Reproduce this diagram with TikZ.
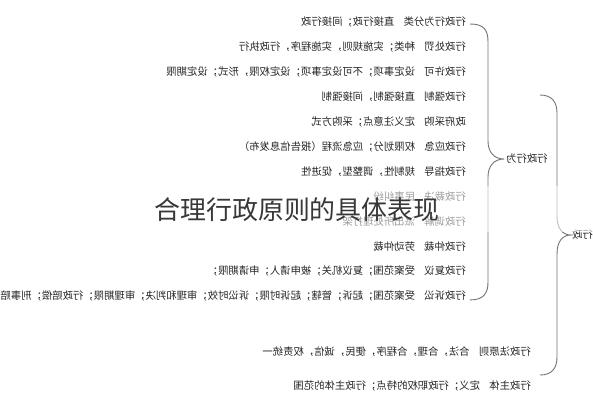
\documentclass[tikz,border=0pt]{standalone}
\usepackage{fontspec}
\setmainfont{Noto Sans CJK SC}
\usetikzlibrary{calc}
\begin{document}
\begin{tikzpicture}[x=1bp,y=-1bp,
  rowtext/.style={anchor=east,inner sep=0pt,font=\fontsize{10.4}{12}\selectfont,text=black!85},
  labtext/.style={anchor=west,inner sep=0pt,font=\fontsize{10.4}{12}\selectfont,text=black!85},
  conn/.style={draw=black!55,line width=0.9pt},
  titletext/.style={inner sep=0pt,font=\fontsize{26}{30}\selectfont,text=black!78}]
\useasboundingbox (0,0) rectangle (593,400);
\fill[white] (0,0) rectangle (593,400);
\newcommand\rowtxt[2]{\reflectbox{#1\hspace{0.9em}#2}}
% rows of the first brace (mirrored)
\node[rowtext] (r1)  at (466,22)    {\rowtxt{行政行为分类}{直接行政；间接行政}};
\node[rowtext] (r2)  at (466,46.9)  {\rowtxt{行政处罚}{种类；实施规则，实施程序，行政执行}};
\node[rowtext] (r3)  at (466,71.8)  {\rowtxt{行政许可}{设定事项；不可设定事项；设定权限，形式；设定期限}};
\node[rowtext] (r4)  at (466,96.7)  {\rowtxt{行政强制}{直接强制，间接强制}};
\node[rowtext] (r5)  at (466,121.6) {\rowtxt{政府采购}{定义注意点；采购方式}};
\node[rowtext] (r6)  at (466,146.5) {\rowtxt{行政应急}{权限划分；应急流程（报告信息发布）}};
\node[rowtext] (r7)  at (466,171.4) {\rowtxt{行政指导}{规制性，调整型，促进性}};
\node[rowtext] (r8)  at (466,196.3) {\rowtxt{行政裁决}{民事纠纷}};
\node[rowtext] (r9)  at (466,221.2) {\rowtxt{行政调解}{派出所处理打架}};
\node[rowtext] (r10) at (466,246.1) {\rowtxt{行政仲裁}{劳动仲裁}};
\node[rowtext] (r11) at (466,271)   {\rowtxt{行政复议}{受案范围；复议机关；被申请人；申请期限；}};
\node[rowtext] (r12) at (466,295.9) {\rowtxt{行政诉讼}{受案范围；起诉；管辖；起诉时限；诉讼时效；审理和判决；审理期限；行政赔偿；刑事赔偿}};
% rows of the root brace
\node[rowtext] (q1) at (531,352) {\rowtxt{行政法原则}{合法，合理，合程序，便民，诚信，权责统一}};
\node[rowtext] (q2) at (531,386) {\rowtxt{行政主体}{定义；行政职权的特点；行政主体的范围}};
% parent labels
\node[labtext] (p1) at (506,159) {\reflectbox{行政行为}};
\node[labtext] (root) at (572,235) {\reflectbox{行政}};
% brace endpoints
\coordinate (b1t) at ($(r1.east)+(4,2)$);
\coordinate (b1b) at ($(r12.east)+(4,4)$);
\coordinate (p1tip) at ($(p1.west)+(-2,0)$);
\coordinate (b2t) at (540,95);
\coordinate (b2b) at (540,375);
\coordinate (roottip) at ($(root.west)+(-1,0)$);
\draw[conn] (b1t) .. controls (484,24) and (488,30) .. (488,42) -- (488,141)
  .. controls (488,152) and (494,159) .. (p1tip)
  .. controls (494,159) and (488,166) .. (488,177) -- (488,282)
  .. controls (488,293) and (484,300) .. (b1b);
\draw[conn] (b2t) .. controls (552,95) and (557,102) .. (557,113) -- (557,216)
  .. controls (557,228) and (562,235) .. (roottip)
  .. controls (562,235) and (557,242) .. (557,254) -- (557,357)
  .. controls (557,368) and (552,375) .. (b2b);
% faded band behind the overlay title
\fill[white,opacity=0.55] (0,186) rectangle (593,232);
\node[titletext] (title) at (297,210) {合理行政原则的具体表现};
\end{tikzpicture}
\end{document}
